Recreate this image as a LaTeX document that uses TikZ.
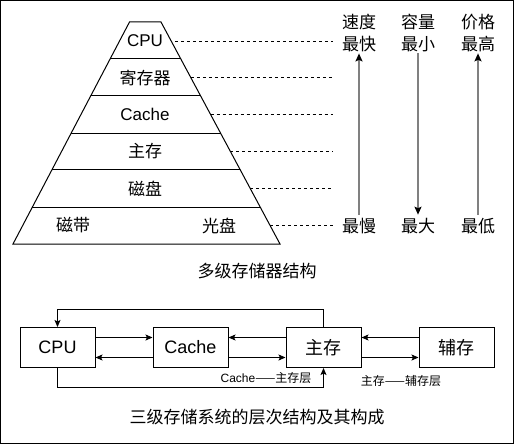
\documentclass[tikz,border=0pt]{standalone}
\usepackage{fontspec}
\setmainfont{Liberation Sans}
\newfontfamily\cjk{Noto Sans CJK SC}
\usetikzlibrary{arrows.meta,calc}
\begin{document}
\begin{tikzpicture}[x=1pt,y=-1pt,line width=1pt,
  lbl/.style={font=\fontsize{17}{22}\selectfont,inner sep=0pt,align=center},
  small/.style={font=\fontsize{12}{14}\selectfont,inner sep=0pt},
  box/.style={draw,minimum width=75pt,minimum height=40pt,inner sep=0pt,font=\fontsize{18}{22}\selectfont},
  tip/.style={-{Stealth[length=7pt,width=6pt,inset=1.5pt]}},
  dash line/.style={line width=0.8pt,dash pattern=on 3pt off 3pt},
  gray arrow/.style={draw=gray,line width=1.5pt,-{Stealth[length=8pt,width=7pt,inset=1.5pt,black]}}
]
\useasboundingbox (0,0) rectangle (514,444);
\draw (0.5,0.5) rectangle (513.5,443.5);

% pyramid
\coordinate (TL) at (129.5,22);
\coordinate (TR) at (161,22);
\coordinate (BL) at (13,244);
\coordinate (BR) at (280,244);
\draw[line join=miter] (TL) -- (TR) -- (BR) -- (BL) -- cycle;
\foreach \k in {1,...,5}
  \draw ($(TL)!\k/6!(BL)$) -- ($(TR)!\k/6!(BR)$);

\node[lbl] (p1) at (145,40.5) {CPU};
\node[lbl] (p2) at (145,77.5) {\cjk 寄存器};
\node[lbl] (p3) at (145,114.5) {Cache};
\node[lbl] (p4) at (145,151.5) {\cjk 主存};
\node[lbl] (p5) at (145,188.5) {\cjk 磁盘};
\node[lbl] (p6a) at (73,225.5) {\cjk 磁带};
\node[lbl] (p6b) at (219,225.5) {\cjk 光盘};

% dashed guide lines
\coordinate (dashend) at (333,0);
\coordinate (ds1) at (175,41);
\foreach \k in {2,...,6}
  \coordinate (ds\k) at ($(TR)!{(\k-0.5)/6}!(BR)$);
\foreach \k in {1,...,6}
  \draw[dash line] (ds\k) -- (ds\k -| dashend);

% right columns
\node[lbl] (fast) at (359,33) {\cjk 速度\\\cjk 最快};
\node[lbl] (little) at (418,33) {\cjk 容量\\\cjk 最小};
\node[lbl] (high) at (478,33) {\cjk 价格\\\cjk 最高};
\node[lbl] (slow) at (359,226) {\cjk 最慢};
\node[lbl] (big) at (418,226) {\cjk 最大};
\node[lbl] (low) at (478,226) {\cjk 最低};
\draw[gray arrow,shorten <=3pt,shorten >=1pt] (slow) -- (fast);
\draw[gray arrow,shorten <=1pt,shorten >=3pt] (little) -- (big);
\draw[gray arrow,shorten <=3pt,shorten >=1pt] (low) -- (high);

\node[lbl] (cap1) at (257,271) {\cjk 多级存储器结构};

% three-level system
\node[box] (cpu) at (57.5,347.5) {CPU};
\node[box] (cache) at (190.5,347.5) {Cache};
\node[box] (mm) at (323.5,347.5) {\cjk 主存};
\node[box] (aux) at (456.5,347.5) {\cjk 辅存};

\draw[tip] ($(cpu.east)+(0,-10)$) -- ($(cache.west)+(0,-10)$);
\draw[tip] ($(cache.west)+(0,10)$) -- ($(cpu.east)+(0,10)$);
\draw[tip] ($(mm.west)+(0,-10)$) -- ($(cache.east)+(0,-10)$);
\draw[tip] ($(cache.east)+(0,10)$) -- ($(mm.west)+(0,10)$);
\draw[tip] ($(aux.west)+(0,-10)$) -- ($(mm.east)+(0,-10)$);
\draw[tip] ($(mm.east)+(0,10)$) -- ($(aux.west)+(0,10)$);

\coordinate (topy) at (0,309);
\coordinate (boty) at (0,387);
\draw[tip] (mm.north) -- (mm.north |- topy) -| (cpu.north);
\draw[tip] (cpu.south) -- (cpu.south |- boty) -| (mm.south);

\node[small] (lcm) at (266,378) {Cache\cjk ——主存层};
\node[small] (lma) at (401,381) {\cjk 主存——辅存层};

\node[lbl] (cap2) at (257,417) {\cjk 三级存储系统的层次结构及其构成};
\end{tikzpicture}
\end{document}
